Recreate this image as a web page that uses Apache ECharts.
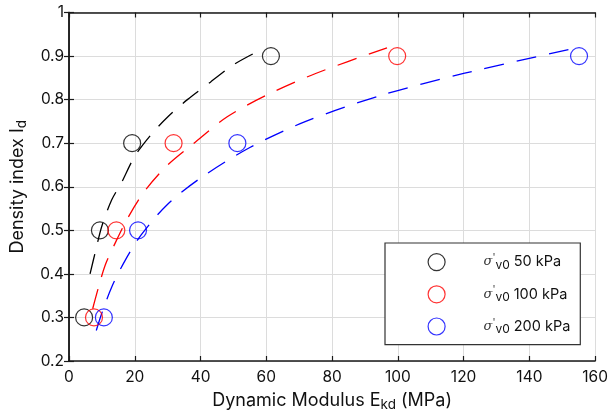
<!DOCTYPE html>
<html>
<head>
<meta charset="utf-8">
<script src="https://cdn.jsdelivr.net/npm/echarts@6/dist/echarts.min.js"></script>
<style>html,body{margin:0;padding:0;background:#fff}#c{width:611px;height:417px}</style>
</head>
<body>
<div id="c"></div>
<script>
// Measured points (E_kd in MPa, density index)
const seriesNames = ['50 kPa', '100 kPa', '200 kPa'];
const idValues = [0.3, 0.5, 0.7, 0.9];
const e50 = [4.6, 9.4, 19.2, 61.4];
const e100 = [7.6, 14.4, 31.8, 99.8];
const e200 = [10.6, 21.0, 51.2, 155.1];

// Dashed fit curves
const fit50X = [6.4, 8, 10, 13, 16, 20, 25, 30, 36, 43, 50, 58];
const fit50Y = [0.40, 0.45, 0.51, 0.57, 0.61, 0.67, 0.72, 0.76, 0.80, 0.84, 0.88, 0.913];
const fit100X = [7.2, 9, 11, 14, 18, 23, 30, 38, 48, 60, 75, 96.7];
const fit100Y = [0.32, 0.37, 0.42, 0.47, 0.53, 0.59, 0.65, 0.70, 0.76, 0.81, 0.86, 0.919];
const fit200X = [8.3, 10, 13, 17, 22, 30, 40, 55, 72, 95, 120, 155.6];
const fit200Y = [0.27, 0.31, 0.37, 0.43, 0.49, 0.56, 0.62, 0.69, 0.75, 0.81, 0.86, 0.921];

const colors = ['#000000', '#ff0000', '#0000ff'];
const xTicks = [0, 20, 40, 60, 80, 100, 120, 140, 160];
const yTicks = [0.2, 0.3, 0.4, 0.5, 0.6, 0.7, 0.8, 0.9, 1];

const FONT = 'Inter, "Liberation Sans", Arial, sans-serif';
const pts = [e50, e100, e200];
const fitsX = [fit50X, fit100X, fit200X];
const fitsY = [fit50Y, fit100Y, fit200Y];
const zip = (a, b) => a.map((v, i) => [v, b[i]]);

const series = [];
for (let k = 0; k < 3; k++) {
  series.push({
    type: 'line', name: 'fit' + k, data: zip(fitsX[k], fitsY[k]),
    smooth: 0.3, showSymbol: false, silent: true,
    lineStyle: { color: colors[k], width: 1.3, type: [20, 13] }, z: 2
  });
}
for (let k = 0; k < 3; k++) {
  series.push({
    type: 'scatter', name: seriesNames[k], data: zip(pts[k], idValues),
    symbol: 'circle', symbolSize: 17,
    itemStyle: { color: 'rgba(0,0,0,0)', borderColor: colors[k], borderWidth: 1.2 }, z: 3
  });
}

const axisLine = { show: true, lineStyle: { color: '#1a1a1a', width: 1.5 } };
const tick = { show: true, inside: true, length: 5, lineStyle: { color: '#1a1a1a', width: 1.2 } };
const chart = echarts.init(document.getElementById('c'));
chart.setOption({
  animation: false,
  backgroundColor: '#ffffff',
  grid: { left: 69, right: 10.5, top: 12.5, bottom: 54.5, containLabel: false },
  xAxis: [{
    type: 'value', min: xTicks[0], max: xTicks[xTicks.length - 1], interval: 20,
    axisLine: axisLine, axisTick: tick,
    axisLabel: { color: '#111', fontSize: 15.5, fontFamily: FONT, margin: 8 },
    splitLine: { show: true, lineStyle: { color: '#dcdcdc', width: 1 } },
    name: 'Dynamic Modulus E{sub|kd} (MPa)', nameLocation: 'middle', nameGap: 28,
    nameTextStyle: { color: '#111', fontSize: 18, fontFamily: FONT,
      rich: { sub: { fontSize: 13.5, fontFamily: FONT, color: '#111', padding: [9, 0, 0, 0] } } }
  }, {
    type: 'value', position: 'top', min: xTicks[0], max: xTicks[xTicks.length - 1], interval: 20,
    axisLine: axisLine, axisTick: tick, axisLabel: { show: false }, splitLine: { show: false }
  }],
  yAxis: [{
    type: 'value', min: yTicks[0], max: yTicks[yTicks.length - 1], interval: 0.1,
    axisLine: axisLine, axisTick: tick,
    axisLabel: { color: '#111', fontSize: 15.5, fontFamily: FONT, margin: 5,
      formatter: v => (Math.round(v * 10) / 10).toString() },
    splitLine: { show: true, lineStyle: { color: '#dcdcdc', width: 1 } },
    name: 'Density index I{sub|d}', nameLocation: 'middle', nameGap: 40, nameRotate: 90,
    nameTextStyle: { color: '#111', fontSize: 18, fontFamily: FONT,
      rich: { sub: { fontSize: 13.5, fontFamily: FONT, color: '#111', padding: [9, 0, 0, 0] } } }
  }, {
    type: 'value', position: 'right', min: yTicks[0], max: yTicks[yTicks.length - 1], interval: 0.1,
    axisLine: axisLine, axisTick: tick, axisLabel: { show: false }, splitLine: { show: false }
  }],
  legend: {
    data: seriesNames, orient: 'vertical', left: 385, top: 243,
    backgroundColor: '#ffffff', borderColor: '#333333', borderWidth: 1.2,
    padding: [10, 10, 9, 42.5], itemWidth: 84, itemHeight: 17, itemGap: 14,
    itemStyle: { color: 'rgba(0,0,0,0)', borderWidth: 1.2 },
    formatter: n => '{s|σ}{a|\'}{v|v0} {t|' + n + '}',
    textStyle: { color: '#111', fontFamily: FONT, fontSize: 14,
      rich: {
        s: { fontSize: 13, fontStyle: 'italic', fontFamily: '"DejaVu Serif", serif', color: '#333', lineHeight: 18 },
        a: { fontSize: 10, color: '#333', verticalAlign: 'top', lineHeight: 18 },
        v: { fontSize: 12, fontFamily: FONT, color: '#111', verticalAlign: 'bottom', lineHeight: 18 },
        t: { fontSize: 14.5, fontFamily: FONT, color: '#111', lineHeight: 18 }
      } }
  },
  series: series
});
</script>
</body>
</html>
